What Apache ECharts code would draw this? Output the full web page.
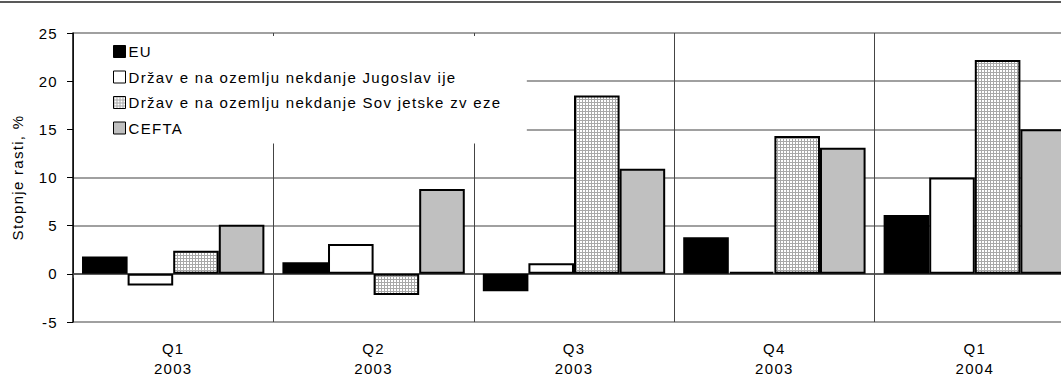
<!DOCTYPE html>
<html>
<head>
<meta charset="utf-8">
<script src="https://cdn.jsdelivr.net/npm/echarts@6/dist/echarts.min.js"></script>
<style>
  html, body { margin: 0; padding: 0; background: #fff; }
  #chart { width: 1061px; height: 379px; }
  /* razmik med črkami kot v izvirniku */
  #chart text { letter-spacing: 1.3px; }
</style>
</head>
<body>
<div id="chart"></div>
<script>
var quarters = ['Q1\n2003', 'Q2\n2003', 'Q3\n2003', 'Q4\n2003', 'Q1\n2004'];
var seriesNames = [
  'EU',
  'Držav e na ozemlju nekdanje Jugoslav ije',
  'Držav e na ozemlju nekdanje Sov jetske zv eze',
  'CEFTA'
];
var euVals = [1.8, 1.2, -1.8, 3.8, 6.1];
var yugoVals = [-1.2, 3.1, 1.1, 0.2, 10.0];
var sovVals = [2.4, -2.2, 18.5, 14.3, 22.2];
var ceftaVals = [5.1, 8.8, 10.9, 13.1, 15.0];
var yTicks = { min: -5, max: 25, step: 5 };

// mrežni vzorec za tretjo serijo
function gridPattern() {
  var c = document.createElement('canvas');
  c.width = 3; c.height = 3;
  var ctx = c.getContext('2d');
  ctx.fillStyle = '#ffffff';
  ctx.fillRect(0, 0, 3, 3);
  ctx.fillStyle = '#a8a8a8';
  ctx.fillRect(0, 0, 3, 1);
  ctx.fillRect(0, 0, 1, 3);
  return { image: c.toDataURL(), repeat: 'repeat' };
}

var fills = ['#000000', '#ffffff', gridPattern(), '#c0c0c0'];
var values = [euVals, yugoVals, sovVals, ceftaVals];

var chart = echarts.init(document.getElementById('chart'), null, { renderer: 'svg' });

var series = seriesNames.map(function (n, i) {
  return {
    name: n,
    type: 'bar',
    data: values[i],
    barGap: '0%',
    barCategoryGap: '9%',
    itemStyle: { color: fills[i], borderColor: '#000', borderWidth: 2 },
    emphasis: { disabled: true }
  };
});

var option = {
  animation: false,
  textStyle: { fontFamily: 'Liberation Sans, Arial, sans-serif' },
  graphic: [{
    type: 'line',
    shape: { x1: 0, y1: 2, x2: 1061, y2: 2 },
    style: { stroke: '#222', lineWidth: 1.5 }
  }],
  legend: {
    orient: 'vertical',
    left: 74,
    top: 36,
    padding: [8, 84, 8, 39],
    backgroundColor: '#ffffff',
    itemWidth: 12,
    itemHeight: 12,
    itemGap: 10.5,
    icon: 'rect',
    itemStyle: { borderWidth: 1, borderColor: '#000' },
    textStyle: { fontSize: 15, color: '#000', padding: [0, 0, 0, -2] },
    data: seriesNames
  },
  grid: { left: 73, width: 1002, top: 33, bottom: 57, outerBoundsMode: 'none', containLabel: false },
  xAxis: {
    type: 'category',
    data: quarters,
    axisLine: { onZero: true, lineStyle: { color: '#444', width: 1.5 } },
    axisTick: { show: true, length: 4, lineStyle: { color: '#444' } },
    splitLine: { show: true, lineStyle: { color: '#444', width: 1 } },
    axisLabel: { margin: 16, fontSize: 15, color: '#000', lineHeight: 20 }
  },
  yAxis: {
    type: 'value',
    min: yTicks.min,
    max: yTicks.max,
    interval: yTicks.step,
    name: 'Stopnje rasti, %',
    nameLocation: 'middle',
    nameGap: 48,
    nameTextStyle: { fontSize: 15, color: '#000' },
    axisLine: { show: true, lineStyle: { color: '#000', width: 1.5 } },
    axisTick: { show: true, length: 6, lineStyle: { color: '#000' } },
    splitLine: { lineStyle: { color: '#808080', width: 1.5 } },
    axisLabel: { fontSize: 15, color: '#000', margin: 15 }
  },
  series: series
};

chart.setOption(option);
</script>
</body>
</html>
